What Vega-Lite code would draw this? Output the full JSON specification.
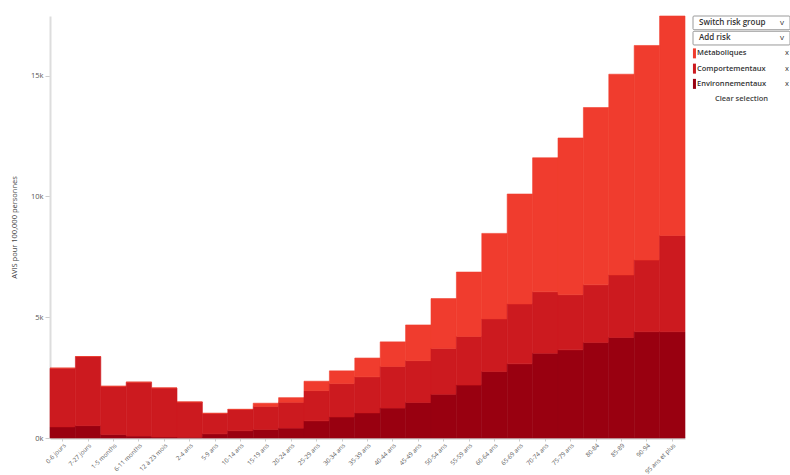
{
  "$schema": "https://vega.github.io/schema/vega-lite/v6.json",
  "background": "white",
  "padding": {"left": 10, "top": 15, "right": 0, "bottom": 0},
  "config": {"view": {"stroke": null}, "font": "Open Sans", "concat": {"spacing": 6}},
  "datasets": {
    "burden": [
      {"age": "0-6 jours", "risk": "Environnementaux", "value": 460}, {"age": "0-6 jours", "risk": "Comportementaux", "value": 2430}, {"age": "0-6 jours", "risk": "Métaboliques", "value": 0},
      {"age": "7-27 jours", "risk": "Environnementaux", "value": 510}, {"age": "7-27 jours", "risk": "Comportementaux", "value": 2860}, {"age": "7-27 jours", "risk": "Métaboliques", "value": 0},
      {"age": "1-5 months", "risk": "Environnementaux", "value": 140}, {"age": "1-5 months", "risk": "Comportementaux", "value": 2000}, {"age": "1-5 months", "risk": "Métaboliques", "value": 0},
      {"age": "6-11 months", "risk": "Environnementaux", "value": 80}, {"age": "6-11 months", "risk": "Comportementaux", "value": 2230}, {"age": "6-11 months", "risk": "Métaboliques", "value": 0},
      {"age": "12 à 23 mois", "risk": "Environnementaux", "value": 40}, {"age": "12 à 23 mois", "risk": "Comportementaux", "value": 2030}, {"age": "12 à 23 mois", "risk": "Métaboliques", "value": 0},
      {"age": "2-4 ans", "risk": "Environnementaux", "value": 30}, {"age": "2-4 ans", "risk": "Comportementaux", "value": 1460}, {"age": "2-4 ans", "risk": "Métaboliques", "value": 0},
      {"age": "5-9 ans", "risk": "Environnementaux", "value": 170}, {"age": "5-9 ans", "risk": "Comportementaux", "value": 850}, {"age": "5-9 ans", "risk": "Métaboliques", "value": 0},
      {"age": "10-14 ans", "risk": "Environnementaux", "value": 300}, {"age": "10-14 ans", "risk": "Comportementaux", "value": 880}, {"age": "10-14 ans", "risk": "Métaboliques", "value": 10},
      {"age": "15-19 ans", "risk": "Environnementaux", "value": 350}, {"age": "15-19 ans", "risk": "Comportementaux", "value": 960}, {"age": "15-19 ans", "risk": "Métaboliques", "value": 130},
      {"age": "20-24 ans", "risk": "Environnementaux", "value": 410}, {"age": "20-24 ans", "risk": "Comportementaux", "value": 1070}, {"age": "20-24 ans", "risk": "Métaboliques", "value": 190},
      {"age": "25-29 ans", "risk": "Environnementaux", "value": 710}, {"age": "25-29 ans", "risk": "Comportementaux", "value": 1250}, {"age": "25-29 ans", "risk": "Métaboliques", "value": 390},
      {"age": "30-34 ans", "risk": "Environnementaux", "value": 870}, {"age": "30-34 ans", "risk": "Comportementaux", "value": 1380}, {"age": "30-34 ans", "risk": "Métaboliques", "value": 530},
      {"age": "35-39 ans", "risk": "Environnementaux", "value": 1040}, {"age": "35-39 ans", "risk": "Comportementaux", "value": 1490}, {"age": "35-39 ans", "risk": "Métaboliques", "value": 780},
      {"age": "40-44 ans", "risk": "Environnementaux", "value": 1240}, {"age": "40-44 ans", "risk": "Comportementaux", "value": 1720}, {"age": "40-44 ans", "risk": "Métaboliques", "value": 1020},
      {"age": "45-49 ans", "risk": "Environnementaux", "value": 1470}, {"age": "45-49 ans", "risk": "Comportementaux", "value": 1730}, {"age": "45-49 ans", "risk": "Métaboliques", "value": 1480},
      {"age": "50-54 ans", "risk": "Environnementaux", "value": 1810}, {"age": "50-54 ans", "risk": "Comportementaux", "value": 1900}, {"age": "50-54 ans", "risk": "Métaboliques", "value": 2060},
      {"age": "55-59 ans", "risk": "Environnementaux", "value": 2190}, {"age": "55-59 ans", "risk": "Comportementaux", "value": 2010}, {"age": "55-59 ans", "risk": "Métaboliques", "value": 2670},
      {"age": "60-64 ans", "risk": "Environnementaux", "value": 2750}, {"age": "60-64 ans", "risk": "Comportementaux", "value": 2180}, {"age": "60-64 ans", "risk": "Métaboliques", "value": 3540},
      {"age": "65-69 ans", "risk": "Environnementaux", "value": 3070}, {"age": "65-69 ans", "risk": "Comportementaux", "value": 2480}, {"age": "65-69 ans", "risk": "Métaboliques", "value": 4550},
      {"age": "70-74 ans", "risk": "Environnementaux", "value": 3510}, {"age": "70-74 ans", "risk": "Comportementaux", "value": 2540}, {"age": "70-74 ans", "risk": "Métaboliques", "value": 5550},
      {"age": "75-79 ans", "risk": "Environnementaux", "value": 3650}, {"age": "75-79 ans", "risk": "Comportementaux", "value": 2280}, {"age": "75-79 ans", "risk": "Métaboliques", "value": 6490},
      {"age": "80-84", "risk": "Environnementaux", "value": 3950}, {"age": "80-84", "risk": "Comportementaux", "value": 2390}, {"age": "80-84", "risk": "Métaboliques", "value": 7340},
      {"age": "85-89", "risk": "Environnementaux", "value": 4160}, {"age": "85-89", "risk": "Comportementaux", "value": 2590}, {"age": "85-89", "risk": "Métaboliques", "value": 8310},
      {"age": "90-94", "risk": "Environnementaux", "value": 4400}, {"age": "90-94", "risk": "Comportementaux", "value": 2970}, {"age": "90-94", "risk": "Métaboliques", "value": 8880},
      {"age": "95 ans et plus", "risk": "Environnementaux", "value": 4400}, {"age": "95 ans et plus", "risk": "Comportementaux", "value": 3980}, {"age": "95 ans et plus", "risk": "Métaboliques", "value": 9090}
    ],
    "panel": [
      {"item": "Switch risk group", "kind": "dropdown"},
      {"item": "Add risk", "kind": "dropdown"},
      {"item": "Métaboliques", "kind": "risk", "risk": "Métaboliques"},
      {"item": "Comportementaux", "kind": "risk", "risk": "Comportementaux"},
      {"item": "Environnementaux", "kind": "risk", "risk": "Environnementaux"},
      {"item": "Clear selection", "kind": "action"}
    ]
  },
  "hconcat": [
    {
      "width": 635,
      "height": 422,
      "data": {"name": "burden"},
      "transform": [
        {"calculate": "indexof(['Environnementaux', 'Comportementaux', 'Métaboliques'], datum.risk)", "as": "stackRank"}
      ],
      "mark": {"type": "bar", "strokeWidth": 0.6},
      "encoding": {
        "x": {
          "field": "age", "type": "nominal", "sort": null,
          "scale": {"paddingInner": 0, "paddingOuter": 0},
          "axis": {"title": null, "labelAngle": -45, "labelAlign": "right", "labelBaseline": "top", "labelFontSize": 6.2, "labelColor": "#5a5a5a", "tickColor": "#ccc", "tickSize": 3, "domainColor": "#ccc", "domainWidth": 2, "labelPadding": 1}
        },
        "y": {
          "field": "value", "type": "quantitative", "stack": "zero", "aggregate": "sum",
          "scale": {"nice": false},
          "axis": {"title": "AVIS pour 100,000 personnes", "titleFontSize": 7.5, "titleFontWeight": "normal", "titleColor": "#444", "titlePadding": 12, "values": [0, 5000, 10000, 15000], "format": "~s", "labelFontSize": 7.5, "labelColor": "#555", "tickColor": "#ccc", "tickSize": 5, "domainColor": "#ddd", "domainWidth": 2, "grid": false}
        },
        "color": {
          "field": "risk", "type": "nominal",
          "scale": {"domain": ["Métaboliques", "Comportementaux", "Environnementaux"], "range": ["#f03c2e", "#cc1a1f", "#990010"]},
          "legend": null
        },
        "stroke": {
          "field": "risk", "type": "nominal",
          "scale": {"domain": ["Métaboliques", "Comportementaux", "Environnementaux"], "range": ["#f03c2e", "#cc1a1f", "#990010"]},
          "legend": null
        },
        "order": {"field": "stackRank", "type": "quantitative", "sort": "ascending"}
      }
    },
    {
      "width": 97,
      "height": 90,
      "data": {"name": "panel"},
      "encoding": {
        "y": {"field": "item", "type": "ordinal", "sort": null, "axis": null, "scale": {"paddingInner": 0.1, "paddingOuter": 0}}
      },
      "layer": [
        {
          "transform": [{"filter": "datum.kind === 'dropdown'"}],
          "mark": {"type": "rect", "fill": "white", "stroke": "#9a9a9a", "strokeWidth": 1, "cornerRadius": 1},
          "encoding": {"x": {"datum": 0, "type": "quantitative", "scale": {"domain": [0, 1]}, "axis": null}, "x2": {"datum": 1}}
        },
        {
          "transform": [{"filter": "datum.kind === 'dropdown'"}],
          "mark": {"type": "text", "align": "left", "fontSize": 8, "fontWeight": 600, "color": "#333", "dx": 6},
          "encoding": {"x": {"datum": 0, "type": "quantitative"}, "text": {"field": "item"}}
        },
        {
          "transform": [{"filter": "datum.kind === 'dropdown'"}],
          "mark": {"type": "text", "align": "center", "fontSize": 8, "color": "#333", "text": "v", "dx": -8},
          "encoding": {"x": {"datum": 1, "type": "quantitative"}}
        },
        {
          "transform": [{"filter": "datum.kind === 'risk'"}],
          "mark": {"type": "rect", "width": 3, "height": 10},
          "encoding": {"x": {"datum": 0.015, "type": "quantitative"}, "color": {"field": "risk", "type": "nominal", "legend": null}}
        },
        {
          "transform": [{"filter": "datum.kind === 'risk'"}],
          "mark": {"type": "text", "align": "left", "fontSize": 7.5, "fontWeight": 600, "color": "#333", "dx": 4},
          "encoding": {"x": {"datum": 0, "type": "quantitative"}, "text": {"field": "item"}}
        },
        {
          "transform": [{"filter": "datum.kind === 'risk'"}],
          "mark": {"type": "text", "align": "center", "fontSize": 7.5, "color": "#333", "text": "x", "dx": -3},
          "encoding": {"x": {"datum": 1, "type": "quantitative"}}
        },
        {
          "transform": [{"filter": "datum.kind === 'action'"}],
          "mark": {"type": "text", "align": "center", "fontSize": 7.5, "fontWeight": 600, "color": "#444"},
          "encoding": {"x": {"datum": 0.5, "type": "quantitative"}, "text": {"field": "item"}}
        }
      ]
    }
  ]
}
